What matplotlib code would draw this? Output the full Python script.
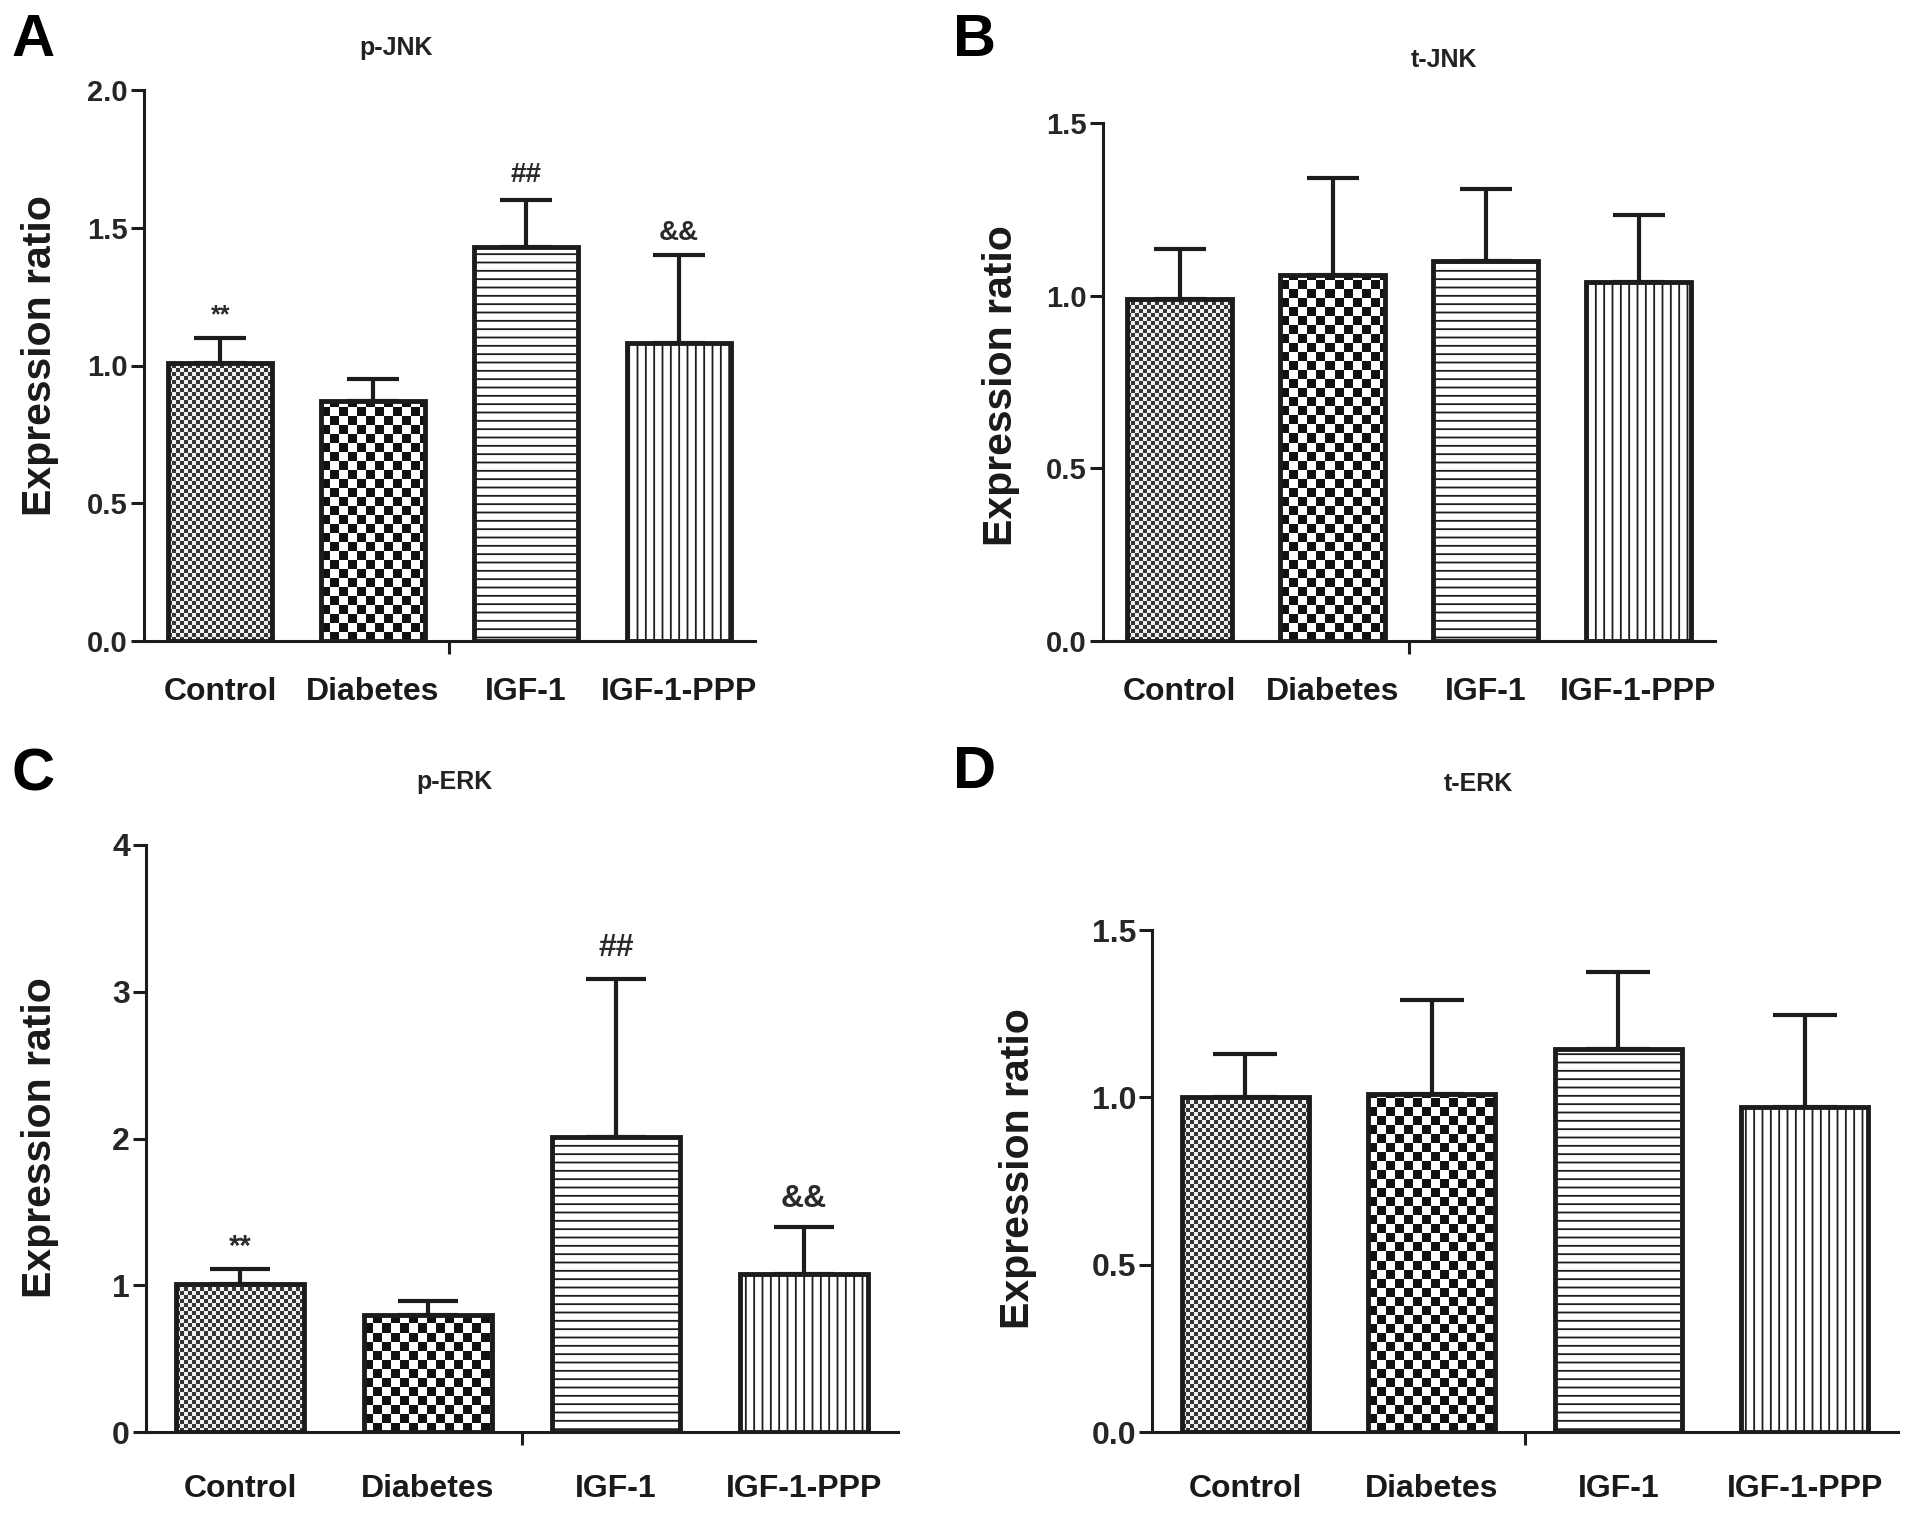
import matplotlib
matplotlib.use('Agg')
import matplotlib.pyplot as plt
import numpy as np
from matplotlib.colors import ListedColormap

plt.rcParams['font.family'] = ['Liberation Sans', 'DejaVu Sans']
plt.rcParams['font.weight'] = 'bold'
plt.rcParams['hatch.linewidth'] = 1.3

INK = '#1c1c1c'

groups = ['Control', 'Diabetes', 'IGF-1', 'IGF-1-PPP']

# mean and upper SD
pjnk_mean = [1.01, 0.87, 1.43, 1.08]
pjnk_err = [0.09, 0.08, 0.17, 0.32]
pjnk_marks = ['**', '', '##', '&&']

tjnk_mean = [0.99, 1.06, 1.10, 1.04]
tjnk_err = [0.145, 0.28, 0.21, 0.195]

perk_mean = [1.01, 0.80, 2.01, 1.08]
perk_err = [0.10, 0.09, 1.08, 0.32]
perk_marks = ['**', '', '##', '&&']

terk_mean = [1.00, 1.01, 1.145, 0.97]
terk_err = [0.13, 0.28, 0.23, 0.275]

W, H = 1913, 1513


def px_rect(left, right, top, bottom):
    return [left / W, 1 - bottom / H, (right - left) / W, (bottom - top) / H]


def checker(ax, bar, cell, colors):
    bb = bar.get_window_extent()
    inv = ax.transData.inverted()
    (x0, y0), (x1, y1) = inv.transform([[bb.x0, bb.y0], [bb.x1, bb.y1]])
    nx = int(np.ceil(bb.width / cell))
    ny = int(np.ceil(bb.height / cell))
    grid = np.add.outer(np.arange(ny), np.arange(nx)) % 2
    dx = (x1 - x0) / bb.width * cell * nx
    dy = (y1 - y0) / bb.height * cell * ny
    im = ax.imshow(grid, extent=(x0, x0 + dx, y0, y0 + dy), origin='lower',
                   cmap=ListedColormap(colors), interpolation='nearest',
                   aspect='auto', zorder=2.5)
    im.set_clip_path(bar)


panels = [
    dict(mean=pjnk_mean, err=pjnk_err, marks=pjnk_marks, title='p-JNK', letter='A',
         rect=px_rect(144, 755, 90, 641), ylim=2.0, yticks=[0, 0.5, 1.0, 1.5, 2.0], fmt='{:.1f}',
         tick_fs=21, cap=18.5, mark_fs=[18, 0, 20, 20], mark_off=[8, 0, 9, 7], pad=26,
         title_xy=(396, 48), letter_xy=(33, 40), ylab_xy=(40, 356)),
    dict(mean=tjnk_mean, err=tjnk_err, marks=None, title='t-JNK', letter='B',
         rect=px_rect(1103, 1715, 123, 641), ylim=1.5, yticks=[0, 0.5, 1.0, 1.5], fmt='{:.1f}',
         tick_fs=21, cap=18.5, pad=26,
         title_xy=(1444, 60), letter_xy=(975, 40), ylab_xy=(1001, 386)),
    dict(mean=perk_mean, err=perk_err, marks=perk_marks, title='p-ERK', letter='C',
         rect=px_rect(146, 898, 845, 1432), ylim=4, yticks=[0, 1, 2, 3, 4], fmt='{:.0f}',
         tick_fs=23, cap=21.5, mark_fs=[21, 0, 23, 23], mark_off=[6, 0, 11, 9], pad=30,
         title_xy=(454, 782), letter_xy=(33, 775), ylab_xy=(40, 1138)),
    dict(mean=terk_mean, err=terk_err, marks=None, title='t-ERK', letter='D',
         rect=px_rect(1152, 1898, 930, 1432), ylim=1.5, yticks=[0, 0.5, 1.0, 1.5], fmt='{:.1f}',
         tick_fs=23, cap=23, pad=30,
         title_xy=(1478, 784), letter_xy=(975, 773), ylab_xy=(1018, 1169)),
]

fig = plt.figure(figsize=(W / 100, H / 100), dpi=100)

x = np.arange(len(groups))
bw = 0.68

for p in panels:
    ax = fig.add_axes(p['rect'])
    ax.set_xlim(-0.5, 3.5)
    ax.set_ylim(0, p['ylim'])

    bars = ax.bar(x, p['mean'], bw, color='white', edgecolor=INK, linewidth=0, zorder=2)
    # Control: fine grey check, Diabetes: coarse check
    checker(ax, bars[0], 4, ['#f0f0f0', '#353535'])
    checker(ax, bars[1], 9, ['white', '#111111'])
    bars[2].set_hatch('--')
    bars[3].set_hatch('||')
    ax.bar(x, p['mean'], bw, fill=False, edgecolor=INK, linewidth=3.5, zorder=4)

    ax.errorbar(x, p['mean'], yerr=[np.zeros(4), p['err']], fmt='none', ecolor=INK,
                elinewidth=3, capsize=p['cap'], capthick=3, zorder=1.5)

    if p['marks']:
        for i, m in enumerate(p['marks']):
            if not m:
                continue
            ax.annotate(m, (x[i], p['mean'][i] + p['err'][i]), xytext=(0, p['mark_off'][i]),
                        textcoords='offset points', ha='center', va='bottom',
                        fontsize=p['mark_fs'][i], fontweight='bold', color='#2a2a2a')

    ax.set_xlim(-0.5, 3.5)
    ax.set_ylim(0, p['ylim'])
    ax.spines['top'].set_visible(False)
    ax.spines['right'].set_visible(False)
    for s in ('left', 'bottom'):
        ax.spines[s].set_linewidth(2.2)
        ax.spines[s].set_color(INK)

    ax.set_yticks(p['yticks'], [p['fmt'].format(v) for v in p['yticks']])
    ax.tick_params(axis='y', length=9.5, width=2.2, color=INK, pad=2,
                   labelsize=p['tick_fs'], labelcolor='#262626')
    ax.set_xticks(x, groups)
    ax.tick_params(axis='x', which='major', length=0, pad=p['pad'],
                   labelsize=23, labelcolor='#1a1a1a')
    ax.set_xticks([1.5], minor=True)
    ax.tick_params(axis='x', which='minor', length=9.5, width=2.2, color=INK)
    for lab in ax.get_xticklabels() + ax.get_yticklabels():
        lab.set_fontweight('bold')

    tx, ty = p['title_xy']
    fig.text(tx / W, 1 - ty / H, p['title'], ha='center', va='center',
             fontsize=18, fontweight='bold', color='#222222')
    lx, ly = p['letter_xy']
    fig.text(lx / W, 1 - ly / H, p['letter'], ha='center', va='center',
             fontsize=43, fontweight='bold', color='black')
    yx, yy = p['ylab_xy']
    fig.text(yx / W, 1 - yy / H, 'Expression ratio', ha='center', va='center',
             rotation=90, fontsize=29.5, fontweight='bold', color='#1a1a1a')

fig.savefig('out.png', dpi=100, facecolor='white')
